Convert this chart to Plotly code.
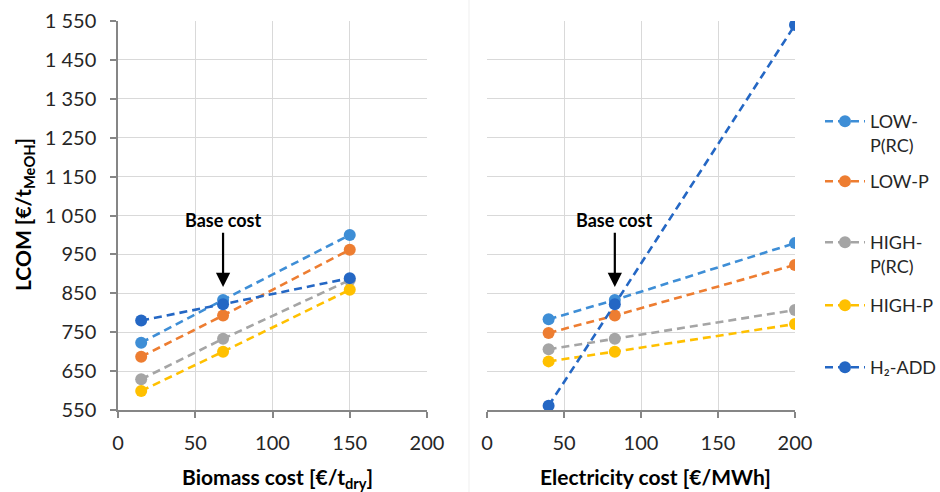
import plotly.graph_objects as go

# ---- data ----
biomass_cost = [15, 68, 150]
electricity_cost = [40, 83, 200]

series_names = ["LOW-P(RC)", "LOW-P", "HIGH-P(RC)", "HIGH-P", "H2-ADD"]
legend_labels = ["LOW-<br>P(RC)", "LOW-P", "HIGH-<br>P(RC)", "HIGH-P", "H\u2082-ADD"]
colors = ["#3E8ED6", "#ED7D31", "#A5A5A5", "#FFC000", "#2467C4"]

lcom_biomass = {
    "LOW-P(RC)": [723, 833, 1000],
    "LOW-P": [687, 793, 962],
    "HIGH-P(RC)": [629, 733, 884],
    "HIGH-P": [599, 700, 859],
    "H2-ADD": [780, 822, 889],
}
lcom_electricity = {
    "LOW-P(RC)": [783, 833, 979],
    "LOW-P": [748, 793, 923],
    "HIGH-P(RC)": [706, 733, 807],
    "HIGH-P": [675, 700, 771],
    "H2-ADD": [561, 822, 1540],
}

y_ticks = [550, 650, 750, 850, 950, 1050, 1150, 1250, 1350, 1450, 1550]
y_ticktext = ["550", "650", "750", "850", "950", "1 050", "1 150", "1 250", "1 350", "1 450", "1 550"]
x_ticks = [0, 50, 100, 150, 200]

base_biomass = 68
base_electricity = 83

FONT = "Lato"
TXT = "#262626"
W, H = 940, 492

# legend entry tops (px from top of the picture)
legend_tops = [103, 163, 224, 287, 349]

fig = go.Figure()

legend_ids = ["legend"] + [f"legend{k}" for k in range(2, 6)]

for i, name in enumerate(series_names):
    fig.add_trace(go.Scatter(
        x=biomass_cost, y=lcom_biomass[name], mode="lines+markers",
        name=legend_labels[i], legendgroup=name, legend=legend_ids[i],
        line=dict(color=colors[i], width=2.6, dash="8px,5px"),
        marker=dict(color=colors[i], size=12),
        xaxis="x", yaxis="y", showlegend=True,
    ))
for i, name in enumerate(series_names):
    fig.add_trace(go.Scatter(
        x=electricity_cost, y=lcom_electricity[name], mode="lines+markers",
        name=legend_labels[i], legendgroup=name,
        line=dict(color=colors[i], width=2.6, dash="8px,5px"),
        marker=dict(color=colors[i], size=12),
        xaxis="x2", yaxis="y2", showlegend=False,
    ))

ydom = [1 - 410 / H, 1 - 21 / H]
grid = "#D9D9D9"
axcol = "#868686"

common_x = dict(range=[0, 200], tickvals=x_ticks, showgrid=True, gridcolor=grid, gridwidth=1.3,
                showline=True, linecolor=axcol, linewidth=1.5, ticks="outside", ticklen=6,
                tickcolor=axcol, tickwidth=1.5, zeroline=False, ticklabelstandoff=8,
                tickfont=dict(family=FONT, size=20, color=TXT))

legend_layout = {}
for lid, top in zip(legend_ids, legend_tops):
    legend_layout[lid] = dict(x=820 / W, xanchor="left", y=1 - top / H, yanchor="top",
                              font=dict(family=FONT, size=18, color=TXT), valign="top",
                              bgcolor="rgba(0,0,0,0)", itemwidth=40)

fig.update_layout(
    width=W, height=H,
    margin=dict(l=0, r=0, t=0, b=0, autoexpand=False),
    paper_bgcolor="white", plot_bgcolor="white",
    xaxis=dict(domain=[118 / W, 427 / W], anchor="y", **common_x),
    xaxis2=dict(domain=[487 / W, 795 / W], anchor="y2", **common_x),
    yaxis=dict(domain=ydom, range=[550, 1550], tickvals=y_ticks, ticktext=y_ticktext,
               showgrid=True, gridcolor=grid, gridwidth=1.3, showline=True, linecolor=axcol,
               linewidth=1.5, ticks="outside", ticklen=6, tickcolor=axcol, tickwidth=1.5,
               zeroline=False, ticklabelstandoff=10,
               tickfont=dict(family=FONT, size=20, color=TXT), anchor="x"),
    yaxis2=dict(domain=ydom, range=[550, 1550], tickvals=y_ticks, showticklabels=False,
                showgrid=True, gridcolor=grid, gridwidth=1.3, showline=False, zeroline=False,
                anchor="x2"),
    showlegend=True,
    **legend_layout,
)

# faint divider between the two chart panels
fig.add_shape(type="line", xref="paper", yref="paper", x0=469 / W, x1=469 / W, y0=0, y1=1,
              line=dict(color="#EFEFEF", width=1))

# axis titles
fig.add_annotation(text="<b>Biomass cost [€/t<sub>dry</sub>]</b>", xref="paper", yref="paper",
                   x=277 / W, y=1 - 478 / H, showarrow=False, xanchor="center", yanchor="middle",
                   font=dict(family=FONT, size=21, color="black"))
fig.add_annotation(text="<b>Electricity cost [€/MWh]</b>", xref="paper", yref="paper",
                   x=655 / W, y=1 - 476 / H, showarrow=False, xanchor="center", yanchor="middle",
                   font=dict(family=FONT, size=21, color="black"))
fig.add_annotation(text="<b>LCOM [€/t<sub>MeOH</sub>]</b>", xref="paper", yref="paper",
                   x=24 / W, y=1 - 215 / H, showarrow=False, textangle=-90,
                   xanchor="center", yanchor="middle",
                   font=dict(family=FONT, size=21, color="black"))

# Base cost label with arrow pointing to the base-case point
for xr, yr, bx in [("x", "y", base_biomass), ("x2", "y2", base_electricity)]:
    fig.add_annotation(text="<b>Base cost</b>", xref=xr, yref=yr, x=bx, y=866,
                       axref=xr, ayref=yr, ax=bx, ay=1038,
                       showarrow=True, arrowhead=2, arrowsize=1.3, arrowwidth=2.2,
                       arrowcolor="black", standoff=0,
                       font=dict(family=FONT, size=18, color="black"))

fig.write_html("out.html")
